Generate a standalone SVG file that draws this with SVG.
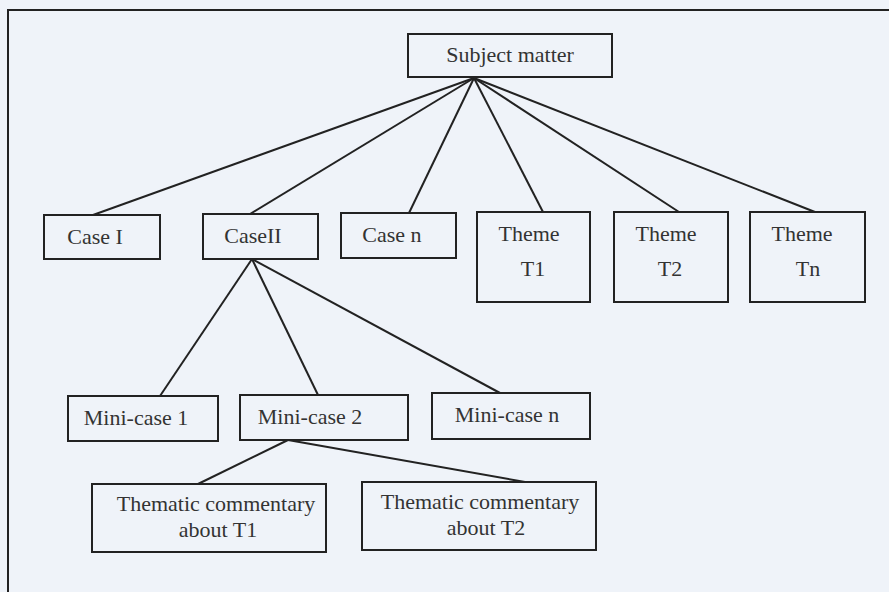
<svg xmlns="http://www.w3.org/2000/svg" width="889" height="592" viewBox="0 0 889 592">
<style>
.bg{fill:#eff3f9}
.box{fill:none;stroke:#222;stroke-width:2}
.frame{fill:none;stroke:#222;stroke-width:2}
.t{font-family:"Liberation Serif","Times New Roman",serif;font-size:22px;fill:#333;text-anchor:middle}
#connectors line{stroke:#222;stroke-width:2}
</style>
<rect class="bg" x="0" y="0" width="889" height="592"/>
<path class="frame" d="M8,600 V10 H900"/>
<g id="connectors">
<line x1="474" y1="78" x2="93" y2="215"/>
<line x1="474" y1="78" x2="250" y2="214"/>
<line x1="474" y1="78" x2="409" y2="213"/>
<line x1="474" y1="78" x2="543" y2="212"/>
<line x1="474" y1="78" x2="679" y2="212"/>
<line x1="474" y1="78" x2="815" y2="212"/>
<line x1="252" y1="259" x2="160" y2="396"/>
<line x1="252" y1="259" x2="318" y2="395"/>
<line x1="252" y1="259" x2="500" y2="393"/>
<line x1="288" y1="440" x2="198" y2="484"/>
<line x1="288" y1="440" x2="525" y2="482"/>
</g>
<g id="subject"><rect class="box" x="408" y="34" width="204" height="43"/><text class="t" x="510" y="62">Subject matter</text></g>
<g id="case1"><rect class="box" x="44" y="215" width="116" height="44"/><text class="t" x="95" y="244">Case I</text></g>
<g id="case2"><rect class="box" x="203" y="214" width="115" height="45"/><text class="t" x="253" y="243">CaseII</text></g>
<g id="casen"><rect class="box" x="341" y="213" width="115" height="45"/><text class="t" x="392" y="242">Case n</text></g>
<g id="themeT1"><rect class="box" x="477" y="212" width="113" height="90"/><text class="t" x="529" y="241">Theme</text><text class="t" x="533" y="276">T1</text></g>
<g id="themeT2"><rect class="box" x="614" y="212" width="114" height="90"/><text class="t" x="666" y="241">Theme</text><text class="t" x="670" y="276">T2</text></g>
<g id="themeTn"><rect class="box" x="750" y="212" width="115" height="90"/><text class="t" x="802" y="241">Theme</text><text class="t" x="808" y="276">Tn</text></g>
<g id="mini1"><rect class="box" x="68" y="396" width="150" height="45"/><text class="t" x="136" y="425">Mini-case 1</text></g>
<g id="mini2"><rect class="box" x="240" y="395" width="168" height="45"/><text class="t" x="310" y="424">Mini-case 2</text></g>
<g id="minin"><rect class="box" x="432" y="393" width="158" height="46"/><text class="t" x="507" y="422">Mini-case n</text></g>
<g id="comT1"><rect class="box" x="92" y="484" width="234" height="68"/><text class="t" x="216" y="511">Thematic commentary</text><text class="t" x="218" y="537">about T1</text></g>
<g id="comT2"><rect class="box" x="362" y="482" width="234" height="68"/><text class="t" x="480" y="509">Thematic commentary</text><text class="t" x="486" y="535">about T2</text></g>
</svg>
